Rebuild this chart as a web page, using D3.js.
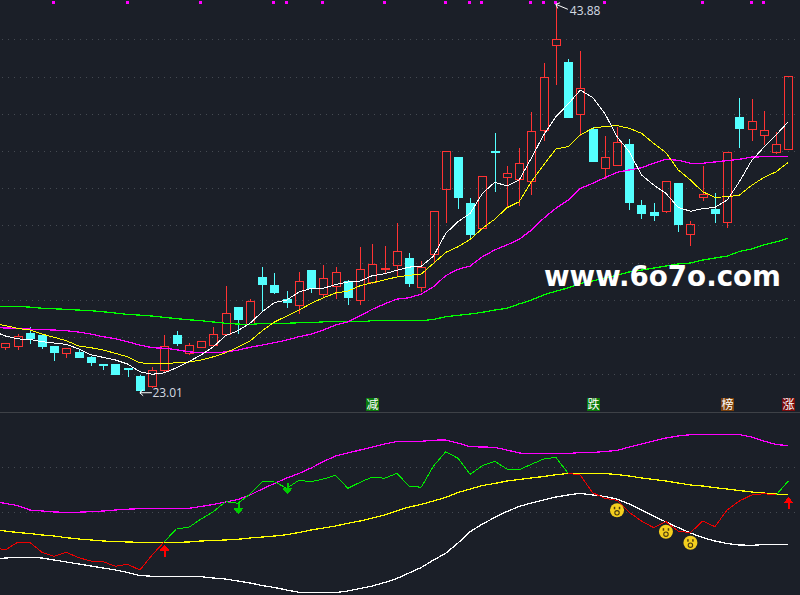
<!DOCTYPE html>
<html><head><meta charset="utf-8">
<script src="https://cdn.jsdelivr.net/npm/d3@7/dist/d3.min.js"></script>
<style>
html,body{margin:0;padding:0;background:#1b1f28;overflow:hidden}
svg{display:block}
</style></head><body>
<svg id="c" width="800" height="595"></svg>
<script>
const opens=[25.48,25.50,26.22,26.09,25.52,25.13,25.20,24.93,24.55,24.54,24.34,23.91,23.39,24.21,26.09,25.16,25.48,25.56,26.18,27.60,26.70,29.23,28.80,28.04,27.74,29.60,28.33,28.76,29.01,28.01,28.97,29.66,29.89,30.25,28.71,30.48,33.97,35.67,33.20,31.88,35.99,34.62,34.51,34.40,37.11,41.68,40.78,38.00,37.18,35.07,35.26,36.37,33.10,32.72,32.77,34.28,31.55,33.51,32.88,32.20,37.82,37.20,36.87,35.96,36.12];
const highs=[25.73,26.20,26.59,26.11,25.57,25.40,25.41,25.04,24.55,24.54,24.34,24.02,24.45,26.16,26.38,25.73,25.80,26.59,28.80,27.67,28.08,29.80,29.50,28.53,29.55,29.60,29.93,29.82,29.12,30.89,31.05,30.95,32.18,30.57,30.14,32.76,35.98,35.67,33.53,34.64,37.02,35.25,36.21,38.15,40.78,43.88,40.99,41.42,37.34,36.86,37.34,36.70,33.42,33.26,34.37,34.28,32.29,35.25,33.79,36.00,38.90,38.84,38.20,37.07,40.01];
const lows=[25.37,25.37,25.70,25.41,24.77,24.94,24.93,24.50,24.28,24.02,23.91,23.01,23.32,24.19,25.57,25.09,25.48,25.56,26.18,26.23,26.70,27.42,28.35,27.60,27.31,28.42,28.21,28.10,27.78,27.78,28.90,29.44,29.28,28.74,28.47,30.03,32.18,32.93,31.38,31.88,33.85,33.04,33.10,33.69,36.59,39.60,37.82,36.86,35.46,34.55,35.26,32.88,32.40,32.29,32.72,31.70,30.95,33.36,32.18,31.91,36.21,36.59,36.37,35.89,36.12];
const closes=[25.66,26.07,25.97,25.52,25.21,25.40,24.93,24.66,24.50,24.02,24.27,23.16,24.21,25.54,25.68,25.56,25.80,26.18,27.28,26.99,27.92,28.85,28.42,27.88,29.00,28.64,29.16,29.48,28.15,29.64,29.91,29.69,30.61,28.90,29.75,32.76,35.98,33.53,31.54,34.64,35.94,34.80,35.34,37.06,39.96,42.00,37.82,39.37,35.46,35.66,36.46,33.26,32.67,32.56,34.37,32.07,32.06,33.67,32.67,35.93,37.23,37.59,37.11,36.36,40.01];
// moving averages start one session before the first visible candle
const ma5=[26.33,26.06,25.90,25.88,25.75,25.68,25.61,25.36,25.05,24.91,24.77,24.55,24.14,24.00,24.08,24.35,24.68,25.04,25.48,26.07,26.34,26.74,27.36,27.85,27.99,28.42,28.62,28.62,28.83,28.96,29.01,29.30,29.40,29.59,29.76,29.80,30.35,31.57,32.20,32.65,33.72,34.32,34.12,34.44,35.62,36.86,37.84,38.52,39.27,38.88,38.02,36.77,35.96,34.71,34.17,33.72,32.97,32.76,32.90,32.97,33.36,34.35,35.48,36.20,36.86,37.57];
const ma10=[26.73,26.62,26.47,26.38,26.16,25.99,25.80,25.52,25.43,25.30,25.13,24.94,24.62,24.57,24.57,24.62,24.66,24.77,24.94,25.16,25.45,25.79,26.34,26.81,27.13,27.45,27.81,28.11,28.37,28.47,28.76,28.92,29.07,29.23,29.32,29.39,29.96,30.55,30.85,31.25,31.84,32.33,32.95,33.27,34.35,35.25,36.10,36.23,36.86,37.22,37.32,37.36,37.22,36.95,36.41,35.91,34.98,34.44,33.81,33.51,33.54,33.63,34.15,34.58,34.88,35.39];
const ma20=[26.51,26.49,26.47,26.43,26.40,26.38,26.34,26.27,26.16,26.02,25.91,25.75,25.57,25.43,25.40,25.32,25.21,25.16,25.16,25.20,25.30,25.45,25.57,25.70,25.84,26.02,26.16,26.38,26.65,26.82,27.15,27.49,27.78,28.04,28.11,28.31,28.71,29.30,29.64,29.82,30.32,30.68,30.95,31.25,31.75,32.38,32.92,33.36,33.99,34.26,34.56,34.85,34.98,35.10,35.34,35.55,35.50,35.34,35.34,35.41,35.48,35.55,35.67,35.69,35.71,35.71];
const ma60=[27.65,27.65,27.65,27.61,27.55,27.52,27.49,27.45,27.42,27.36,27.29,27.22,27.18,27.13,27.06,26.99,26.93,26.88,26.81,26.74,26.70,26.68,26.73,26.74,26.74,26.77,26.77,26.82,26.82,26.82,26.82,26.88,26.88,26.88,26.88,26.88,26.95,27.09,27.17,27.24,27.33,27.45,27.55,27.78,27.99,28.26,28.47,28.64,28.88,29.01,29.17,29.33,29.50,29.60,29.71,29.82,29.93,29.98,30.14,30.25,30.35,30.60,30.73,30.95,31.11,31.31];
const priceGrid=[42,40,38,36,34,32,30,28,26,24];
const topDots=[4,10,16,22,23,26,31,36,38,39,43,44,45,49,57,61,62];
const lowIndex=11, highIndex=45;

const bandUpper=[94,91.5,89.5,85,84,83,82.7,82.8,83.3,84,85,85.8,86.3,86.6,86.7,86.7,86.7,88.5,90.5,93,95.5,100,106,111.5,117,121.5,127,133.5,139,142,145,148,151,153.5,153.7,153.7,154.8,155,152,148.3,148,147.7,145,142,141.2,141.5,141.5,141.5,142.5,142.5,143.5,144.5,148,151,154,157,159,160.3,160.7,160.7,160.7,160.5,158,154,150.5,149.3];
const bandMid=[65,64,62.5,61.5,60,59,57.3,56,55,54,53.5,53,52.7,52.7,52.7,52.7,53,54,54.5,55,55.7,57,58,59,60.3,62.5,65,67,69,71.7,74,77,80,84,88,90.5,94,97.5,102.5,106,109.5,111.5,114,115.5,117,118.5,120.3,121.5,121.5,121.7,121.5,120.5,119,117,115.5,114,112,110,109,107.3,106,104.5,103,102,101,100.3];
const bandLower=[36,37,37.5,37.7,37,35,33,31,29,27,25,22.5,19.5,18.7,18.5,18.5,18.4,18.3,17,16,14,12,9.5,7.5,5,2.7,2.5,2.5,2.5,4,6.5,9,12.5,16.5,22,27.5,35,41.7,52,63.3,71,77.5,83.5,88.5,92,95,98,100,101.7,100,98.5,96,91,85,79,73,67.5,62,57.5,54,51.5,50,49.7,50.4,50.6,50.7];
const signal=[48,45,52.7,52.7,42.7,38.7,42.7,37.3,34,33.3,28.7,30.7,25,40,53.3,66.3,67.7,76,83.3,93.3,91.7,100.7,113.3,113.3,106.7,114.7,113.3,116,119.7,106.7,112.7,118,116.7,121.7,109,107.7,129,143.3,136.7,120.7,129.3,133.7,126,125.3,130.7,136,137.7,121.7,120,102.3,96.7,94.7,82.7,74,67.3,73.3,64,62.3,74,68.3,85,94,100,101.3,100,114];
const signalGreenRanges=[[13,46],[63,64]];
const lowerGrid=[83,128];
const upArrows=[13,64];
const downArrows=[19,23];
const smileys=[50,54,56];
const badges=[{i:30,t:"减",c:"#0b7a0b"},{i:48,t:"跌",c:"#0b7a0b"},{i:59,t:"榜",c:"#7a3f0b"},{i:64,t:"涨",c:"#7a0b0b"}];

const RED="#ff3333",CYAN="#54ffff",BG="#1b1f28";
const svg=d3.select("#c");
const x=d3.scaleLinear().domain([0,64]).range([5.3,788.3]);
const y=d3.scaleLinear().domain([24,42]).range([374.3,39.3]);
const yl=d3.scaleLinear().domain([0,183]).range([595,412]);
const px=v=>Math.round(x(v))+0.5, py=v=>Math.round(y(v))+0.5;

svg.append("rect").attr("width",800).attr("height",595).attr("fill",BG);
const grid=svg.append("g").attr("stroke","#454a52").attr("stroke-dasharray","1 5").attr("shape-rendering","crispEdges");
priceGrid.forEach(p=>grid.append("line").attr("x1",2).attr("x2",800).attr("y1",Math.round(y(p))+.5).attr("y2",Math.round(y(p))+.5));
lowerGrid.forEach(p=>grid.append("line").attr("x1",2).attr("x2",800).attr("y1",Math.round(yl(p))+.5).attr("y2",Math.round(yl(p))+.5));
svg.append("line").attr("x1",0).attr("x2",800).attr("y1",412.5).attr("y2",412.5).attr("stroke","#3e4147");

// candles
const cg=svg.append("g").attr("shape-rendering","crispEdges");
opens.forEach((o,i)=>{
  const up=closes[i]>=o, col=up?RED:CYAN;
  const top=Math.max(o,closes[i]), bot=Math.min(o,closes[i]);
  const g=cg.append("g").attr("stroke",col);
  if(highs[i]>top) g.append("line").attr("x1",px(i)).attr("x2",px(i)).attr("y1",py(highs[i])).attr("y2",py(top));
  if(lows[i]<bot) g.append("line").attr("x1",px(i)).attr("x2",px(i)).attr("y1",py(bot)).attr("y2",py(lows[i]));
  g.append("rect").attr("x",px(i)-4).attr("width",8).attr("y",py(top)).attr("height",Math.max(0,py(bot)-py(top))).attr("fill",up?"none":CYAN);
});

// moving averages
const lineMain=d3.line().x((d,i)=>x(i-1)).y(d=>y(d));
[[ma60,"#00ff00",1.25],[ma20,"#ff00ff",1.25],[ma10,"#ffff00",1],[ma5,"#ffffff",1]].forEach(([s,c,w])=>{
  svg.append("path").attr("d",lineMain(s)).attr("fill","none").attr("stroke",c).attr("stroke-width",w).attr("shape-rendering","crispEdges");
});

// signal dots on top
svg.append("g").attr("fill","#ff00ff").selectAll("rect").data(topDots).join("rect")
  .attr("x",d=>Math.round(x(d))-2).attr("y",1).attr("width",3).attr("height",3);

// high/low labels
function mark(tipX,tipY,endX,endY,tx,ty,val){
  svg.append("path").attr("d",`M${endX},${endY}L${tipX},${tipY}`).attr("stroke","#fff").attr("fill","none");
  const a=Math.atan2(endY-tipY,endX-tipX);
  [0.75,-0.75].forEach(d=>svg.append("line").attr("x1",tipX).attr("y1",tipY)
     .attr("x2",tipX+4.5*Math.cos(a+d)).attr("y2",tipY+4.5*Math.sin(a+d)).attr("stroke","#fff"));
  svg.append("text").attr("x",tx).attr("y",ty).text(val.toFixed(2))
    .attr("font-family","'Open Sans','Liberation Sans',sans-serif").attr("font-size",12).attr("fill","#d5dbe3");
}
mark(x(lowIndex),y(lows[lowIndex]),x(lowIndex)+12,y(lows[lowIndex]),x(lowIndex)+12.5,y(lows[lowIndex])+4.5,lows[lowIndex]);
mark(x(highIndex),y(highs[highIndex]),x(highIndex)+12,y(highs[highIndex])+5,x(highIndex)+14,y(highs[highIndex])+11,highs[highIndex]);

// watermark
svg.append("text").attr("x",544).attr("y",286).text("www.6o7o.com")
  .attr("font-family","'DejaVu Sans',sans-serif").attr("font-weight",700).attr("font-size",27.5)
  .attr("textLength",237).attr("lengthAdjust","spacingAndGlyphs").attr("fill","#ffffff");

// badges
const bg=svg.append("g");
badges.forEach(b=>{
  const cx=Math.round(x(b.i));
  bg.append("rect").attr("x",cx-6).attr("y",398).attr("width",13).attr("height",13).attr("fill",b.c);
  bg.append("text").attr("x",cx+.5).attr("y",409).attr("text-anchor","middle").text(b.t)
    .attr("font-family","'Noto Sans CJK SC'").attr("font-size",12).attr("fill","#fff");
});

// lower panel
const lineLow=d3.line().x((d,i)=>x(i-1)).y(d=>yl(d));
[[bandUpper,"#ff00ff"],[bandLower,"#ffffff"],[bandMid,"#ffff00"]].forEach(([s,c])=>{
  svg.append("path").attr("d",lineLow(s)).attr("fill","none").attr("stroke",c).attr("stroke-width",1.25).attr("shape-rendering","crispEdges");
});
const segLine=d3.line().x(d=>x(d.i)).y(d=>yl(d.v));
signal.forEach((v,k)=>{
  if(k===0) return;
  const i=k-1;
  const green=signalGreenRanges.some(r=>i-1>=r[0]&&i<=r[1]);
  svg.append("path").attr("d",segLine([{i:i-1,v:signal[k-1]},{i:i,v}]))
    .attr("fill","none").attr("stroke",green?"#00ee00":"#ee0000").attr("stroke-width",1).attr("shape-rendering","crispEdges");
});
function arrow(i,tipY,dir,color){
  const cx=Math.round(x(i))+.5;
  const g=svg.append("g").attr("fill",color).attr("shape-rendering","crispEdges");
  g.append("path").attr("d",`M${cx},${tipY}L${cx+5},${tipY+dir*6}L${cx-5},${tipY+dir*6}Z`);
  g.append("rect").attr("x",cx-1).attr("width",2).attr("y",dir>0?tipY+5:tipY-11).attr("height",7);
}
upArrows.forEach((i,k)=>arrow(i,k===0?yl(signal[i+1])+3:yl(signal[i+1])+16,1,"#ff0000"));
downArrows.forEach(i=>arrow(i,yl(signal[i+1])+(i===19?11:6),-1,"#00cc00"));
smileys.forEach(i=>{
  const cx=x(i), cy=yl(signal[i+1])+10;
  const g=svg.append("g");
  g.append("circle").attr("cx",cx).attr("cy",cy).attr("r",7).attr("fill","#f4cf1e");
  [-2.5,2.5].forEach(d=>g.append("rect").attr("x",cx+d-.75).attr("y",cy-3.5).attr("width",1.5).attr("height",2.5).attr("fill","#4a3a10"));
  g.append("circle").attr("cx",cx).attr("cy",cy+2.5).attr("r",2.2).attr("fill","none").attr("stroke","#4a3a10").attr("stroke-width",1.1);
});
</script>
</body></html>
